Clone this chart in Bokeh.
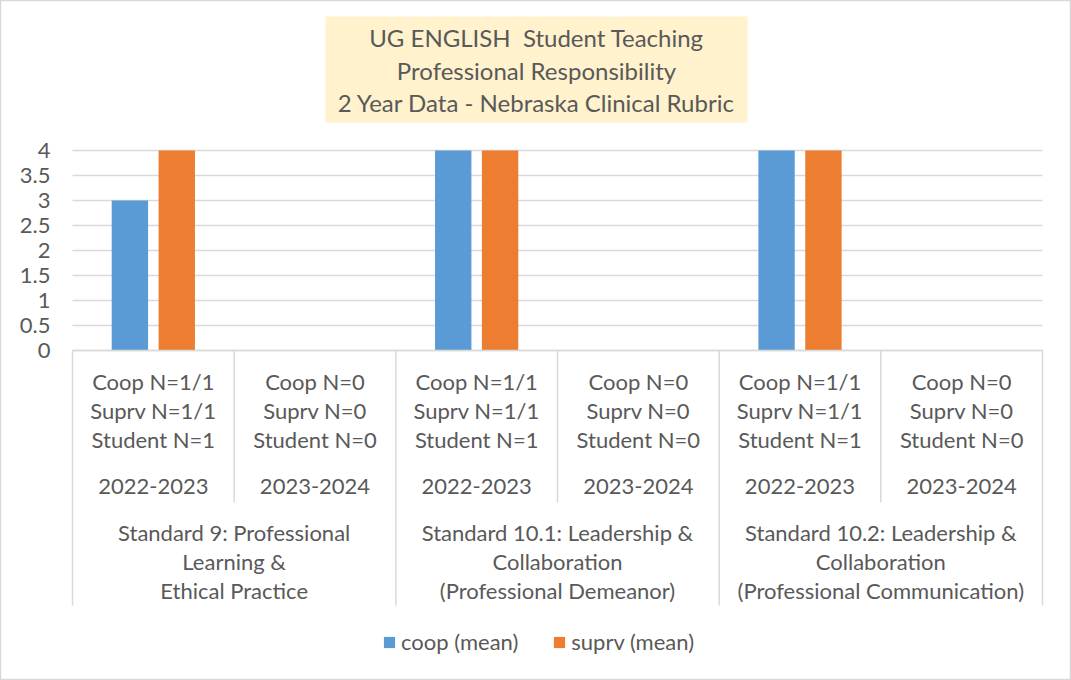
from bokeh.plotting import figure
from bokeh.models import Range1d, Legend, LegendItem
from bokeh.core.properties import value
from bokeh.embed import file_html
from bokeh.resources import INLINE

# ---------------- data ----------------
title_lines = ["UG ENGLISH  Student Teaching",
               "Professional Responsibility",
               "2 Year Data - Nebraska Clinical Rubric"]
standards = ["Standard 9: Professional\nLearning &\nEthical Practice",
             "Standard 10.1: Leadership &\nCollaboration\n(Professional Demeanor)",
             "Standard 10.2: Leadership &\nCollaboration\n(Professional Communication)"]
years = ["2022-2023", "2023-2024"]
n_labels = ["Coop N=1/1\nSuprv N=1/1\nStudent N=1", "Coop N=0\nSuprv N=0\nStudent N=0"]
coop_mean = [3, None, 4, None, 4, None]
suprv_mean = [4, None, 4, None, 4, None]
y_ticks = [0, 0.5, 1, 1.5, 2, 2.5, 3, 3.5, 4]
y_tick_labels = ["0", "0.5", "1", "1.5", "2", "2.5", "3", "3.5", "4"]
series_names = ["coop (mean)", "suprv (mean)"]
series_colors = ["#5B9BD5", "#ED7D31"]

# ---------------- layout ----------------
W, H, M = 1071, 680, 0
X0_PX, X6_PX = 72, 1042          # page pixels of category axis ends
Y0_PX, Y4_PX = 350, 150          # page pixels of value 0 and value 4
n_slots = len(standards) * len(years)
slot_px = (X6_PX - X0_PX) / n_slots
unit_px = (Y0_PX - Y4_PX) / 4.0

def px_x(px):
    return (px - X0_PX) / slot_px

def px_y(py):
    return (Y0_PX - py) / unit_px

FONT_NAME = "Lato"
FONT = value(FONT_NAME)
FS = "22px"
FS_T = "24px"
TXT = "#595959"
GRID = "#d9d9d9"

p = figure(width=W, height=H, output_backend="svg", toolbar_location=None,
           x_axis_type=None, y_axis_type=None,
           x_range=Range1d(px_x(M), px_x(M + W)),
           y_range=Range1d(px_y(M + H), px_y(M)),
           min_border=0)
p.xgrid.visible = False
p.ygrid.visible = False
p.outline_line_color = GRID
p.outline_line_width = 1.5
p.background_fill_color = "white"
p.border_fill_color = "white"

# gridlines
p.segment(x0=[0] * len(y_ticks), x1=[n_slots] * len(y_ticks), y0=y_ticks, y1=y_ticks,
          line_color=GRID, line_width=1.5)

# y tick labels
p.text(x=[px_x(50)] * len(y_ticks), y=y_ticks, text=y_tick_labels, text_font=FONT,
       text_font_size=FS, text_color=TXT, text_align="right", text_baseline="middle")

# bars
bar_w = 0.225
offs = [-0.145, 0.145]
renderers = []
for vals, off, col in zip([coop_mean, suprv_mean], offs, series_colors):
    xs = [i + 0.5 + off for i, v in enumerate(vals) if v is not None]
    tops = [v for v in vals if v is not None]
    r = p.vbar(x=xs, top=tops, bottom=0, width=bar_w, fill_color=col, line_color=None)
    renderers.append(r)

# category axis lines
short_y = px_y(502)
long_y = px_y(605)
sx = [i for i in range(n_slots + 1)]
p.segment(x0=sx, x1=sx, y0=[0] * len(sx),
          y1=[long_y if i % len(years) == 0 else short_y for i in sx],
          line_color=GRID, line_width=1.5)
p.segment(x0=[0], x1=[n_slots], y0=[0], y1=[0], line_color=GRID, line_width=1.5)

# category labels
line_gap = 29 / unit_px
lab_x, lab_y, lab_t = [], [], []
for i in range(n_slots):
    for k, ln in enumerate(n_labels[i % len(years)].split("\n")):
        lab_x.append(i + 0.5)
        lab_y.append(px_y(381) - k * line_gap)
        lab_t.append(ln)
    lab_x.append(i + 0.5)
    lab_y.append(px_y(486))
    lab_t.append(years[i % len(years)])
for j, s in enumerate(standards):
    for k, ln in enumerate(s.split("\n")):
        lab_x.append(j * len(years) + len(years) / 2)
        lab_y.append(px_y(532) - k * line_gap)
        lab_t.append(ln)
p.text(x=lab_x, y=lab_y, text=lab_t, text_font=FONT, text_font_size=FS,
       text_color=TXT, text_align="center", text_baseline="middle")

# title box
p.quad(left=[px_x(325)], right=[px_x(747)], top=[px_y(16)], bottom=[px_y(122)],
       fill_color="#FFF2CC", line_color=None)
tcx = px_x(536)
p.text(x=[tcx] * 3, y=[px_y(37), px_y(70), px_y(102)],
       text=[t.replace("  ", " \u00a0") for t in title_lines],
       text_font=FONT, text_font_size=FS_T, text_color=TXT,
       text_align="center", text_baseline="middle")

# legend
legend = Legend(items=[LegendItem(label=n, renderers=[r]) for n, r in zip(series_names, renderers)],
                orientation="horizontal", location=(382, 25),
                glyph_width=14, glyph_height=14, label_standoff=5, spacing=34,
                padding=0, margin=0, border_line_color=None, background_fill_alpha=0,
                label_text_font=FONT_NAME, label_text_font_size=FS, label_text_color=TXT)
p.add_layout(legend, "center")

open("out.html", "w").write(file_html(p, INLINE))
